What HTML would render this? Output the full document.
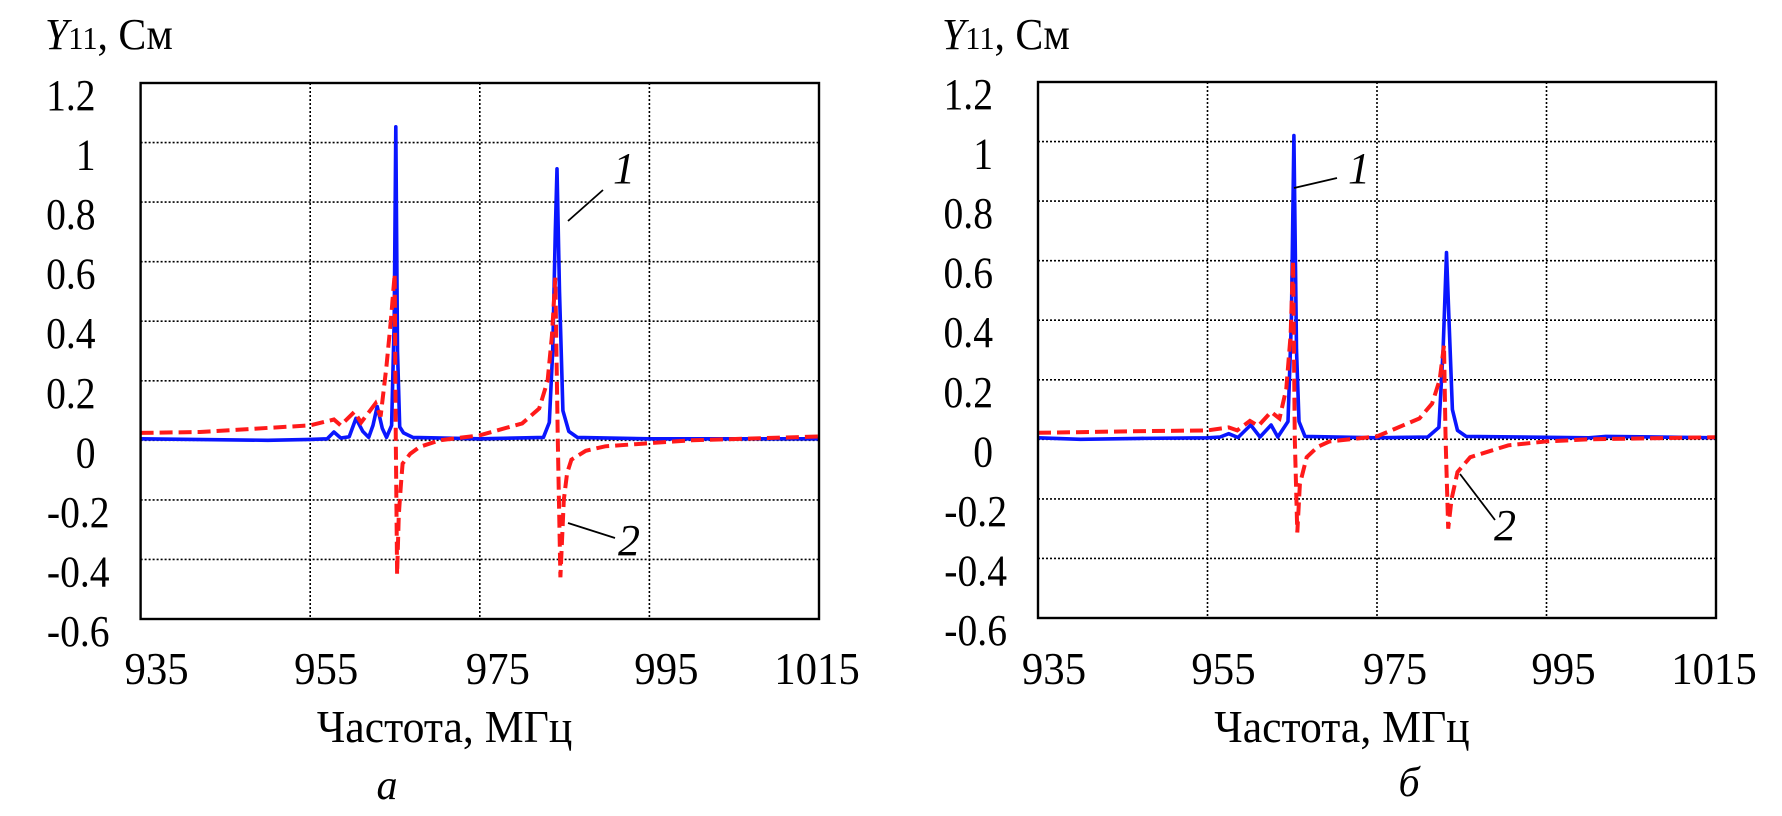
<!DOCTYPE html>
<html><head><meta charset="utf-8"><style>
html,body{margin:0;padding:0;background:#fff;}
svg{display:block;}
text{font-family:"Liberation Serif",serif;fill:#000;}
</style></head><body>
<svg id="fig" width="1782" height="816" viewBox="0 0 1782 816"></svg>
<script>
// ---- shared axis data ----
const xTicks = [935, 955, 975, 995, 1015];
const xTickLabels = ["935", "955", "975", "995", "1015"];
const yTicks = [1.2, 1, 0.8, 0.6, 0.4, 0.2, 0, -0.2, -0.4, -0.6];
const yTickLabels = ["1.2", "1", "0.8", "0.6", "0.4", "0.2", "0", "-0.2", "-0.4", "-0.6"];

// ---- chart a ----
const blueFreqA = [935,950,955,957,957.8,958.6,959.6,960.4,961.2,961.9,962.4,962.9,963.5,964.0,964.6,964.9,965.1,965.3,965.55,966,967.1,975,982.5,983.2,983.6,983.9,984.1,984.4,984.8,985.5,986.5,995,1015];
const blueValsA = [0.005,0.0,0.003,0.005,0.028,0.008,0.012,0.074,0.03,0.01,0.05,0.114,0.04,0.01,0.05,0.4,1.053,0.3,0.045,0.025,0.01,0.005,0.01,0.06,0.3,0.7,0.912,0.5,0.1,0.03,0.01,0.005,0.005];
const redFreqA = [935,942,946.7,952,955,957.8,958.6,960.2,961,962.7,963.3,964.0,964.5,964.96,965.1,965.25,965.45,965.7,965.9,966.8,967.9,970.3,975,980,982,983,983.5,983.9,984.2,984.5,984.9,985.3,985.8,987.5,989.8,994.8,1000,1015];
const redValsA = [0.025,0.028,0.036,0.045,0.05,0.07,0.05,0.095,0.06,0.124,0.08,0.25,0.4,0.559,0.0,-0.45,-0.25,-0.15,-0.078,-0.045,-0.022,0.0,0.017,0.057,0.107,0.2,0.35,0.546,0.0,-0.46,-0.2,-0.11,-0.065,-0.035,-0.02,-0.01,0.0,0.013];

// ---- chart b ----
const blueFreqB = [935,940,947,955,956.5,957.5,958.6,960.1,961.2,962.5,963.3,964.5,964.9,965.2,965.5,965.8,966.5,975,981,982.3,982.8,983.2,983.5,983.9,984.5,985.5,1000,1002,1015];
const blueValsB = [0.005,0.0,0.003,0.005,0.008,0.019,0.006,0.048,0.008,0.048,0.008,0.06,0.4,1.02,0.3,0.06,0.01,0.005,0.008,0.04,0.3,0.627,0.4,0.1,0.03,0.01,0.005,0.01,0.005];
const redFreqB = [935,946,955,957.5,958.5,960,961,962.5,963.5,964.3,964.8,965.1,965.3,965.6,965.9,966.7,968,969.4,975,980,981.5,982.4,982.9,983.1,983.4,983.8,984.5,986,990.5,995,1000,1015];
const redValsB = [0.022,0.027,0.03,0.04,0.03,0.062,0.045,0.092,0.07,0.17,0.35,0.6,0.0,-0.313,-0.15,-0.06,-0.025,-0.007,0.01,0.07,0.12,0.2,0.316,0.0,-0.3,-0.2,-0.11,-0.06,-0.02,-0.007,0.0,0.007];

const NS = "http://www.w3.org/2000/svg";
const svg = document.getElementById("fig");
function mk(tag, attrs, parent) {
  const e = document.createElementNS(NS, tag);
  for (const k in attrs) e.setAttribute(k, attrs[k]);
  (parent || svg).appendChild(e);
  return e;
}
function condense(t, f) {
  const w = t.getComputedTextLength();
  if (w > 0) { t.setAttribute("textLength", (w * f).toFixed(1)); t.setAttribute("lengthAdjust", "spacingAndGlyphs"); }
}

function drawChart(cfg) {
  const g = mk("g", {});
  
  
  const x = f => cfg.left + (f - 935) / 80 * (cfg.right - cfg.left);
  const y = v => cfg.top + (1.2 - v) / 1.8 * (cfg.bottom - cfg.top);

  xTicks.slice(1, -1).forEach(t => {
    const l = mk("line", {x1: x(t), x2: x(t), y1: cfg.top, y2: cfg.bottom, stroke: "#000", "stroke-width": 1.6, "stroke-dasharray": "2 2"}, g);
    
    
  });
  yTicks.slice(1, -1).forEach(t => {
    const l = mk("line", {x1: cfg.left, x2: cfg.right, y1: y(t), y2: y(t), stroke: "#000", "stroke-width": 1.6, "stroke-dasharray": "2 2"}, g);
    
    
  });

  const path = (fs, vs) => fs.map((f, i) => (i ? "L" : "M") + x(f).toFixed(1) + "," + y(vs[i]).toFixed(1)).join(" ");
  const blue = mk("path", {d: path(cfg.bf, cfg.bv), fill: "none", stroke: "#0a16ff", "stroke-width": 3.6, "stroke-linejoin": "round"}, g);
  
  
  const red = mk("path", {d: path(cfg.rf, cfg.rv), fill: "none", stroke: "#ff1a1a", "stroke-width": 4, "stroke-dasharray": "13 6"}, g);
  
  

  const fr = mk("rect", {x: cfg.left, y: cfg.top, width: cfg.right - cfg.left, height: cfg.bottom - cfg.top, fill: "none", stroke: "#000", "stroke-width": 2.4}, g);
  
  

  yTicks.forEach((t, i) => {
    const neg = t < 0;
    const tx = mk("text", {x: cfg.left + (neg ? -31 : -45), y: y(t) + 27, "font-size": 44, "text-anchor": "end"}, g);
    tx.textContent = yTickLabels[i];
    
    
    condense(tx, 0.9);
  });
  const xoff = [16, 16, 18, 17, -2];
  xTicks.forEach((t, i) => {
    const tx = mk("text", {x: x(t) + xoff[i], y: 684, "font-size": 46, "text-anchor": "middle"}, g);
    tx.textContent = xTickLabels[i];
    
    
    condense(tx, 0.93);
  });
  const xt = mk("text", {x: cfg.left + 304, y: 742, "font-size": 46, "text-anchor": "middle"}, g);
  xt.textContent = "Частота, МГц";
  
  
  condense(xt, 0.95);
  const yt = mk("text", {x: cfg.ytx, y: 49, "font-size": 44}, g);
  
  
  const s1 = mk("tspan", {"font-style": "italic"}, yt); s1.textContent = "Y";
  const s2 = mk("tspan", {"font-size": 32}, yt); s2.textContent = "11";
  const s3 = mk("tspan", {}, yt); s3.textContent = ", См";
  condense(yt, 0.95);
  const pl = mk("text", {x: cfg.letterX, y: cfg.letterY, "font-size": 42, "font-style": "italic", "text-anchor": "middle"}, g);
  pl.textContent = cfg.letter;
  
  

  cfg.callouts.forEach(c => {
    const ln = mk("line", {x1: c.x1, y1: c.y1, x2: c.x2, y2: c.y2, stroke: "#000", "stroke-width": 1.8}, g);
    
    
    const ct = mk("text", {x: c.tx, y: c.ty, "font-size": 44, "font-style": "italic", "text-anchor": "middle"}, g);
    ct.textContent = c.t;
    
    
  });
}

drawChart({name: "chart-a", left: 140.6, right: 819, top: 83, bottom: 619, ytx: 45,
  bf: blueFreqA, bv: blueValsA, rf: redFreqA, rv: redValsA,
  letter: "а", letterX: 387, letterY: 799,
  callouts: [
    {t: "1", x1: 568, y1: 221, x2: 603, y2: 190, tx: 624, ty: 183},
    {t: "2", x1: 568, y1: 523, x2: 615, y2: 538, tx: 629, ty: 555}
  ]});
drawChart({name: "chart-b", left: 1038, right: 1716, top: 82, bottom: 618, ytx: 942,
  bf: blueFreqB, bv: blueValsB, rf: redFreqB, rv: redValsB,
  letter: "б", letterX: 1409, letterY: 796,
  callouts: [
    {t: "1", x1: 1294, y1: 188, x2: 1337, y2: 178, tx: 1359, ty: 183},
    {t: "2", x1: 1460, y1: 474, x2: 1495, y2: 520, tx: 1505, ty: 540}
  ]});
</script>
</body></html>
